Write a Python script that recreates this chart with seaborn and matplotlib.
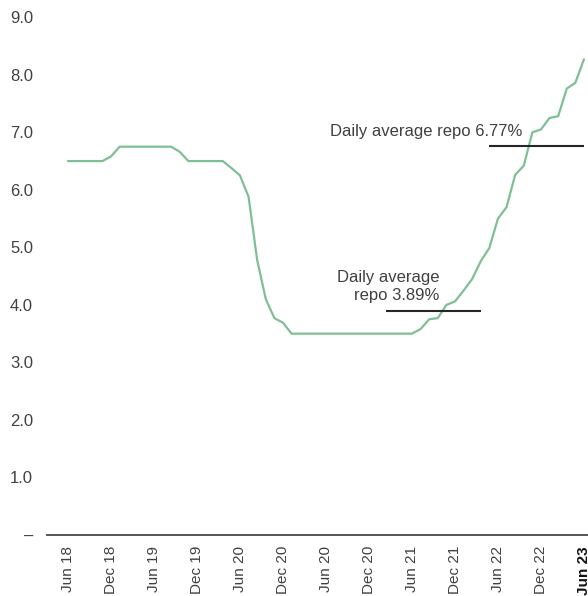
import matplotlib
matplotlib.use("Agg")
import matplotlib.pyplot as plt
import seaborn as sns
import pandas as pd

# Monthly average repo rate (%), one point per month
repo_rate = [
    6.50, 6.50, 6.50, 6.50, 6.50, 6.58, 6.75, 6.75, 6.75, 6.75,
    6.75, 6.75, 6.75, 6.66, 6.50, 6.50, 6.50, 6.50, 6.50, 6.38,
    6.25, 5.88, 4.78, 4.10, 3.77, 3.69, 3.50, 3.50, 3.50, 3.50,
    3.50, 3.50, 3.50, 3.50, 3.50, 3.50, 3.50, 3.50, 3.50, 3.50,
    3.50, 3.58, 3.75, 3.77, 4.00, 4.06, 4.25, 4.45, 4.76, 4.99,
    5.50, 5.70, 6.26, 6.42, 7.00, 7.05, 7.25, 7.28, 7.76, 7.86,
    8.27,
]

tick_labels = ["Jun 18", "Dec 18", "Jun 19", "Dec 19", "Jun 20", "Dec 20",
               "Jun 20", "Dec 20", "Jun 21", "Dec 21", "Jun 22", "Dec 22",
               "Jun 23"]
tick_step = 5

y_ticks = [0, 1, 2, 3, 4, 5, 6, 7, 8, 9]
y_labels = ["–", "1.0", "2.0", "3.0", "4.0", "5.0", "6.0", "7.0", "8.0", "9.0"]

# Period averages: (value, first month, last month)
avg_first = (3.89, 37, 48)
avg_second = (6.77, 49, 60)

df = pd.DataFrame({"month": range(len(repo_rate)), "rate": repo_rate})

sns.set_style("white")
plt.rcParams["font.family"] = ["Liberation Sans", "DejaVu Sans"]

fig = plt.figure(figsize=(5.88, 5.96), dpi=100)
ax = fig.add_axes([47 / 588, 61 / 596, 541 / 588, 535 / 596])

sns.lineplot(data=df, x="month", y="rate", ax=ax, color="#7fbf95",
             linewidth=1.6, legend=False)

for val, x0, x1 in (avg_first, avg_second):
    ax.plot([x0, x1], [val, val], color="#262626", linewidth=1.5,
            solid_capstyle="butt")

text_color = "#404040"
ax.text(52.8, 7.01, f"Daily average repo {avg_second[0]:.2f}%", ha="right",
        va="center", fontsize=12, color=text_color)
ax.text(43.2, 4.32, f"Daily average\nrepo {avg_first[0]:.2f}%", ha="right",
        va="center", multialignment="right", fontsize=12, color=text_color,
        linespacing=1.2)

ax.set_xlim(-2.44, 60.47)
ax.set_ylim(0, 9.3)

ax.set_xticks([i * tick_step for i in range(len(tick_labels))])
ax.set_xticklabels(tick_labels, rotation=90, fontsize=11, color=text_color,
                   va="top", ha="center")
ticks = ax.get_xticklabels()
ticks[-1].set_fontweight("bold")
ticks[-1].set_color("#111111")

ax.set_yticks(y_ticks)
ax.set_yticklabels(y_labels, fontsize=12, color=text_color)

ax.tick_params(axis="x", length=0, pad=8)
ax.tick_params(axis="y", length=0, pad=10)
ax.set_xlabel("")
ax.set_ylabel("")

for side in ("top", "right", "left"):
    ax.spines[side].set_visible(False)
ax.spines["bottom"].set_color("#555555")
ax.spines["bottom"].set_linewidth(1.4)
ax.grid(False)

fig.savefig("out.png", dpi=100)
